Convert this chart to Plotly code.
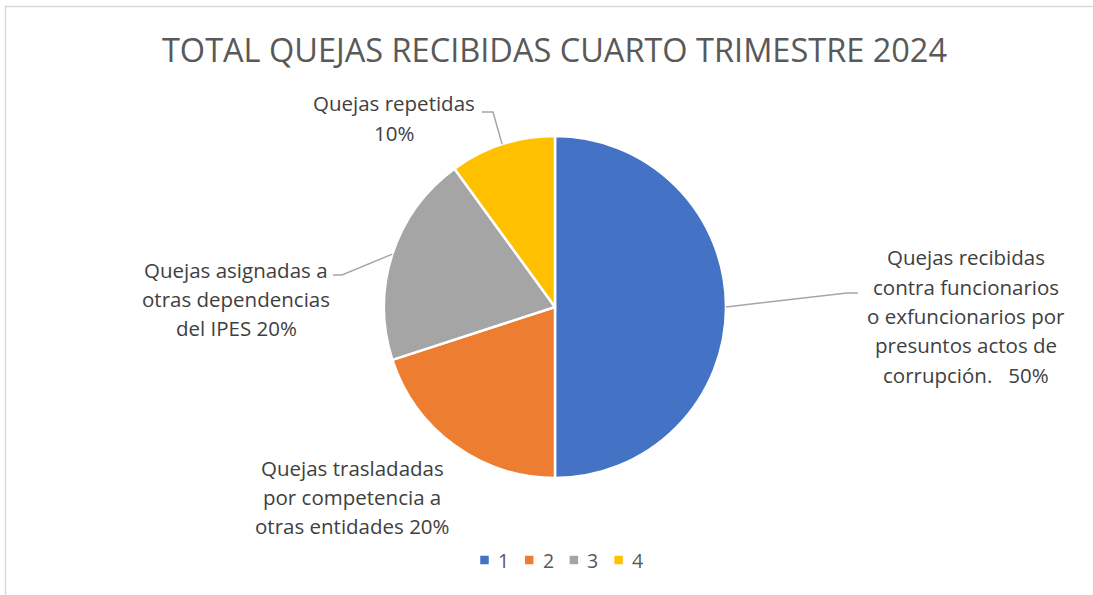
import math
import plotly.graph_objects as go

# ---- data ----
categories = ["1", "2", "3", "4"]
values = [50, 20, 20, 10]
label_lines = [
    ["Quejas recibidas", "contra funcionarios", "o exfuncionarios por",
     "presuntos actos de", "corrupción.   50%"],
    ["Quejas trasladadas", "por competencia a", "otras entidades 20%"],
    ["Quejas asignadas a", "otras dependencias", "del IPES 20%"],
    ["Quejas repetidas", "10%"],
]
colors = ["#4472C4", "#ED7D31", "#A5A5A5", "#FFC000"]
title_text = "TOTAL QUEJAS RECIBIDAS CUARTO TRIMESTRE 2024"

W, H = 1093, 595
FONT = "Open Sans"
LINE_H = 29.3

# pie geometry (pixels)
cx, cy, r = 555, 307, 171

def px(x):
    return x / W

def py(y):
    return 1 - y / H

# label centres (pixels) and leader elbows
label_pos = [(966, 316), (352, 497), (236, 299), (394, 118)]
leader_end = [(858, 293), None, (333, 275), (482, 112)]
leader_elbow = [(847, 293), None, (342, 275), (493, 112)]

# legend layout (pixels)
LEG_X0, LEG_STEP, LEG_Y, LEG_SQ, LEG_GAP = 484.5, 44.7, 560, 8.5, 19

fig = go.Figure()
fig.add_trace(go.Pie(
    labels=categories,
    values=values,
    sort=False,
    direction="clockwise",
    rotation=0,
    marker=dict(colors=colors, line=dict(color="white", width=2.5)),
    textinfo="none",
    hoverinfo="label+percent",
    domain=dict(x=[px(cx - r), px(cx + r)], y=[py(cy + r), py(cy - r)]),
    showlegend=False,
))

annotations = []
shapes = []
total = sum(values)
cum = 0
for i, v in enumerate(values):
    mid = (cum + v / 2) / total * 2 * math.pi
    cum += v
    lx, ly = label_pos[i]
    lines = label_lines[i]
    n = len(lines)
    for k, line in enumerate(lines):
        yy = ly + (k - (n - 1) / 2) * LINE_H
        annotations.append(dict(
            x=px(lx), y=py(yy), xref="paper", yref="paper",
            text=line, showarrow=False, align="center",
            font=dict(family=FONT, size=20.5, color="#404040"),
            xanchor="center", yanchor="middle",
        ))
    if leader_end[i] is not None:
        sx = cx + r * math.sin(mid)
        sy = cy - r * math.cos(mid)
        ex, ey = leader_elbow[i]
        fx, fy = leader_end[i]
        shapes.append(dict(
            type="path", xref="paper", yref="paper",
            path=f"M {px(sx)} {py(sy)} L {px(ex)} {py(ey)} L {px(fx)} {py(fy)}",
            line=dict(color="#A6A6A6", width=1.5),
        ))

# legend (squares + category names)
for i, cat in enumerate(categories):
    mx = LEG_X0 + i * LEG_STEP
    shapes.append(dict(type="rect", xref="paper", yref="paper",
                       x0=px(mx - LEG_SQ / 2), x1=px(mx + LEG_SQ / 2),
                       y0=py(LEG_Y + LEG_SQ / 2), y1=py(LEG_Y - LEG_SQ / 2),
                       fillcolor=colors[i], line=dict(width=0)))
    annotations.append(dict(
        x=px(mx + LEG_GAP), y=py(LEG_Y), xref="paper", yref="paper",
        text=cat, showarrow=False,
        font=dict(family=FONT, size=19.5, color="#595959"),
        xanchor="center", yanchor="middle",
    ))

# chart border
shapes.append(dict(type="rect", xref="paper", yref="paper",
                   x0=px(5.5), y0=py(H + 10), x1=px(W + 10), y1=py(6.5),
                   line=dict(color="#D9D9D9", width=1.5)))

fig.update_layout(
    width=W, height=H,
    margin=dict(l=0, r=0, t=0, b=0),
    paper_bgcolor="white",
    plot_bgcolor="white",
    showlegend=False,
    title=dict(text=title_text, x=px(554.5), xanchor="center", y=py(51), yanchor="middle",
               font=dict(family=FONT, size=32.5, color="#595959")),
    annotations=annotations,
    shapes=shapes,
)

fig.write_html("out.html", post_script="document.body.style.margin='0';",
               config={"displayModeBar": False})
